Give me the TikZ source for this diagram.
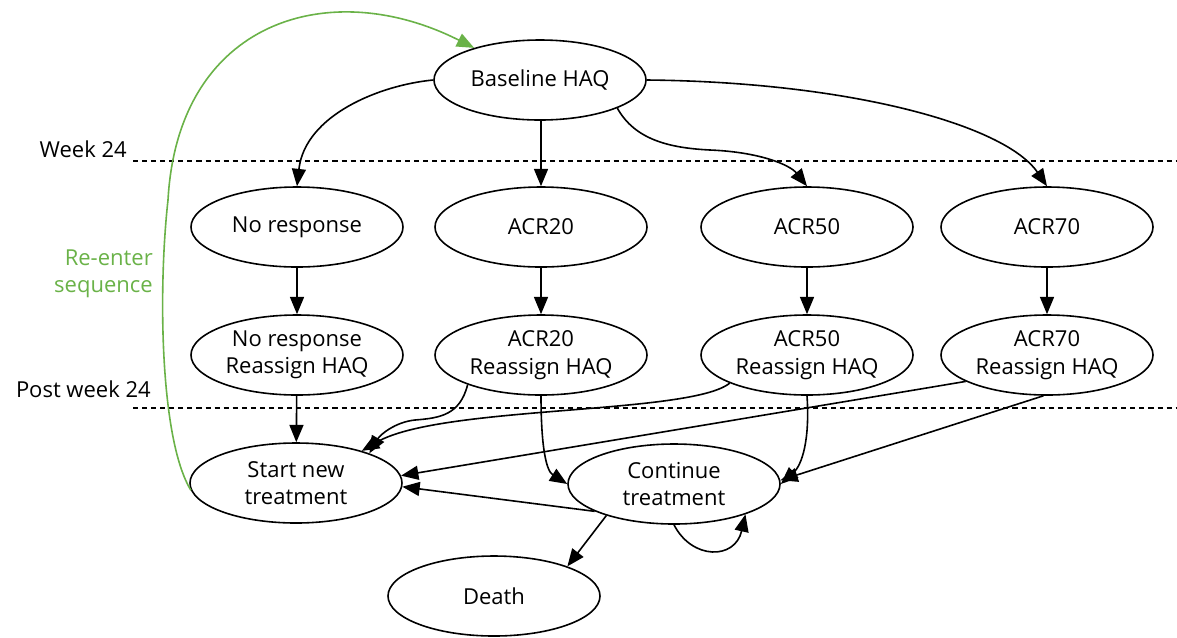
\documentclass[tikz,border=0pt]{standalone}
\usepackage{fontspec}
\setmainfont{Open Sans}
\usetikzlibrary{shapes.geometric,arrows.meta}
\definecolor{reenter}{RGB}{106,178,72}
\begin{document}
\begin{tikzpicture}[x=0.75pt,y=-0.75pt,
  state/.style={ellipse,draw,line width=1.2pt,minimum width=159pt,minimum height=60pt,inner sep=0pt,align=center,font=\fontsize{16.5}{20.5}\selectfont},
  conn/.style={line width=1.2pt,-{Triangle[length=13pt,width=10.5pt]}},
  divider/.style={line width=1.1pt,dash pattern=on 3.8pt off 3pt},
  lbl/.style={font=\fontsize{16.5}{20.5}\selectfont,align=right,inner sep=0pt}]
\useasboundingbox (0,0) rectangle (1177,637);
% dividers
\coordinate (w24a) at (133,161);
\coordinate (w24b) at (1177,161);
\coordinate (p24a) at (133,408);
\coordinate (p24b) at (1177,408);
\draw[divider] (w24a) -- (w24b);
\draw[divider] (p24a) -- (p24b);
\node[lbl,anchor=east] (wk) at (127,149) {Week 24};
\node[lbl,anchor=east] (pwk) at (151,389) {Post week 24};
\node[lbl,anchor=east,text=reenter] (re) at (153,274) {Re-enter\\sequence};
% nodes
\node[state] (base) at (540,80) {Baseline HAQ};
\node[state] (nr) at (297,227) {No response};
\node[state] (a20) at (541,227) {ACR20};
\node[state] (a50) at (807,227) {ACR50};
\node[state] (a70) at (1047,227) {ACR70};
\node[state] (nrr) at (297,355) {No response\\Reassign HAQ};
\node[state] (a20r) at (541,355) {ACR20\\Reassign HAQ};
\node[state] (a50r) at (807,355) {ACR50\\Reassign HAQ};
\node[state] (a70r) at (1047,355) {ACR70\\Reassign HAQ};
\node[state] (snt) at (296,483) {Start new\\treatment};
\node[state] (ct) at (674,484) {Continue\\treatment};
\node[state] (death) at (494,596) {Death};
% connectors from baseline
\draw[conn] (base.west) .. controls (380,85) and (305,115) .. (nr.north);
\draw[conn] (base.south -| a20.north) -- (a20.north);
\draw[conn] (base.-20) .. controls (635,140) and (670,148) .. (710,150) .. controls (760,152) and (790,165) .. (a50.north);
\draw[conn] (base.east) .. controls (850,82) and (1005,125) .. (a70.north);
% response to reassign
\draw[conn] (nr) -- (nrr);
\draw[conn] (a20) -- (a20r);
\draw[conn] (a50) -- (a50r);
\draw[conn] (a70) -- (a70r);
% post week 24
\draw[conn] (nrr) -- (snt);
\draw[conn] (a20r.202) .. controls (460,415) and (440,418) .. (415,420) .. controls (395,422) and (380,435) .. (snt.22);
\draw[conn] (a50r.200) .. controls (690,415) and (440,405) .. (snt.26);
\draw[conn] (a70r.198) -- (snt.4);
\draw[conn] (a20r.south) .. controls (541,440) and (545,470) .. (ct.west);
\draw[conn] (a50r.south) .. controls (810,440) and (802,465) .. (ct.east);
\draw[conn] (a70r.-95) -- (ct.2);
\draw[conn] (ct.199) -- (snt.-2);
\draw[conn] (ct.205) -- (death.22);
\draw[conn] (ct.south) .. controls (692,560) and (735,560) .. (ct.-23);
% re-enter
\draw[line width=1.2pt,draw=reenter,-{Triangle[length=13pt,width=10.5pt]}]
  (snt.184) .. controls (160,440) and (158,290) .. (168,200)
  .. controls (178,20) and (330,-25) .. (base.154);
\end{tikzpicture}
\end{document}
